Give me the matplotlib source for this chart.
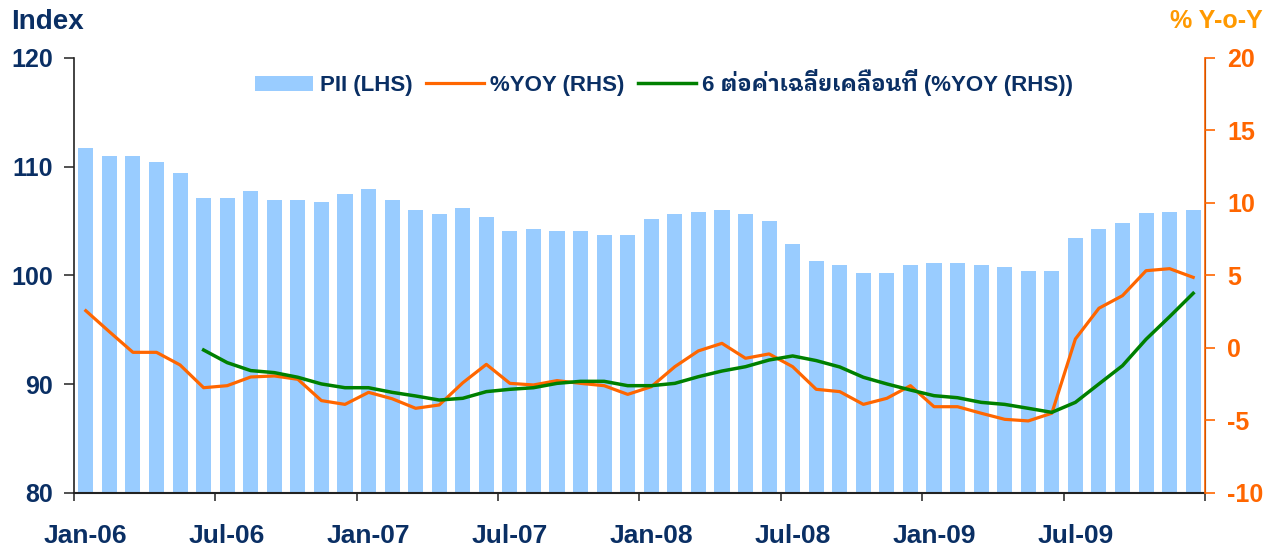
import matplotlib
matplotlib.use("Agg")
import matplotlib.pyplot as plt
import numpy as np

months = ["Jan-06","Feb-06","Mar-06","Apr-06","May-06","Jun-06","Jul-06","Aug-06","Sep-06","Oct-06","Nov-06","Dec-06",
          "Jan-07","Feb-07","Mar-07","Apr-07","May-07","Jun-07","Jul-07","Aug-07","Sep-07","Oct-07","Nov-07","Dec-07",
          "Jan-08","Feb-08","Mar-08","Apr-08","May-08","Jun-08","Jul-08","Aug-08","Sep-08","Oct-08","Nov-08","Dec-08",
          "Jan-09","Feb-09","Mar-09","Apr-09","May-09","Jun-09","Jul-09","Aug-09","Sep-09","Oct-09","Nov-09","Dec-09"]

pii = [111.7, 111.0, 111.0, 110.4, 109.4, 107.1, 107.1, 107.8, 106.9, 106.9, 106.8, 107.5,
       107.95, 106.9, 106.0, 105.65, 106.2, 105.4, 104.1, 104.3, 104.1, 104.1, 103.7, 103.7,
       105.2, 105.65, 105.8, 106.0, 105.65, 105.0, 102.9, 101.3, 101.0, 100.2, 100.2, 101.0,
       101.15, 101.15, 101.0, 100.8, 100.4, 100.4, 103.45, 104.3, 104.8, 105.75, 105.8, 106.0]

yoy = [2.57, 1.12, -0.3, -0.3, -1.17, -2.74, -2.6, -2.0, -1.93, -2.16, -3.63, -3.89,
       -3.06, -3.5, -4.16, -3.93, -2.4, -1.13, -2.44, -2.55, -2.25, -2.44, -2.6, -3.2,
       -2.67, -1.29, -0.2, 0.32, -0.71, -0.41, -1.29, -2.85, -3.01, -3.89, -3.47, -2.6,
       -4.05, -4.05, -4.5, -4.92, -5.03, -4.5, 0.62, 2.74, 3.61, 5.33, 5.47, 4.87]

ma6 = [None, None, None, None, None, -0.14, -1.01, -1.56, -1.7, -2.02, -2.48, -2.74,
       -2.74, -3.06, -3.31, -3.59, -3.47, -3.01, -2.85, -2.74, -2.44, -2.3, -2.3, -2.6,
       -2.6, -2.44, -1.98, -1.59, -1.29, -0.83, -0.55, -0.87, -1.31, -2.02, -2.48, -2.9,
       -3.29, -3.43, -3.75, -3.89, -4.16, -4.44, -3.75, -2.48, -1.22, 0.6, 2.16, 3.77]

tick_labels = ["Jan-06", "Jul-06", "Jan-07", "Jul-07", "Jan-08", "Jul-08", "Jan-09", "Jul-09"]
legend_labels = ["PII (LHS)", "%YOY (RHS)", "6 ต่อค่าเฉลี่ยเคลื่อนที่ (%YOY (RHS))"]

NAVY = "#0A2F64"
ORANGE = "#FF6600"
YORANGE = "#FF9900"
GREEN = "#008000"
BAR = "#99CCFF"
FONT = ["Liberation Sans", "DejaVu Sans"]
THAI = ["Liberation Sans", "IBM Plex Sans Thai Looped", "IBM Plex Sans Thai", "DejaVu Sans"]

plt.rcParams['font.family'] = FONT
plt.rcParams['axes.unicode_minus'] = False

fig = plt.figure(figsize=(12.72, 5.48), dpi=100)
ax = fig.add_axes([0.0582, 0.1004, 0.8891, 0.7938])
ax2 = ax.twinx()

x = np.arange(len(months))
bars = ax.bar(x, pii, width=0.64, color=BAR, zorder=1, label=legend_labels[0])
ax.set_ylim(80, 120)
ax.set_xlim(-0.5, len(months) - 0.5)
ax.set_yticks([80, 90, 100, 110, 120])

ma_arr = np.array([np.nan if v is None else v for v in ma6], dtype=float)
l1, = ax2.plot(x, yoy, color=ORANGE, lw=2.3, label=legend_labels[1], solid_joinstyle='round')
l2, = ax2.plot(x, ma_arr, color=GREEN, lw=2.5, label=legend_labels[2], solid_joinstyle='round')
ax2.set_ylim(-10, 20)
ax2.set_yticks([-10, -5, 0, 5, 10, 15, 20])

# major ticks at boundaries between months (no labels), labels centred on the months
tick_pos = [months.index(t) - 0.5 for t in tick_labels] + [len(months) - 0.5]
ax.set_xticks(tick_pos)
ax.set_xticklabels([""] * len(tick_pos))
ax.set_xticks([months.index(t) for t in tick_labels], minor=True)
ax.set_xticklabels(tick_labels, minor=True, fontsize=19, fontweight="bold", color=NAVY)
ax.tick_params(axis='x', which='major', direction='out', length=6, width=1.2, color="#333333")
ax.tick_params(axis='x', which='minor', length=0, pad=22)
ax.tick_params(axis='y', direction='out', length=7, width=1.2, color="#333333", pad=8,
               labelsize=18, labelcolor=NAVY)
for lab in ax.get_yticklabels():
    lab.set_fontweight("bold")
ax2.tick_params(axis='y', direction='out', length=7, width=1.2, color=ORANGE, pad=9,
                labelsize=18, labelcolor=ORANGE)
for lab in ax2.get_yticklabels():
    lab.set_fontweight("bold")

for a in (ax, ax2):
    a.spines['top'].set_visible(False)
ax.spines['left'].set_color("#222222"); ax.spines['left'].set_linewidth(1.2)
ax.spines['bottom'].set_color("#222222"); ax.spines['bottom'].set_linewidth(1.5)
ax2.spines['right'].set_color(ORANGE); ax2.spines['right'].set_linewidth(1.2)
ax2.spines['left'].set_visible(False); ax2.spines['bottom'].set_visible(False)

fig.text(0.0087, 1 - 29 / 548, "Index", fontsize=20, fontweight="bold", color=NAVY, ha="left", va="baseline")
fig.text(0.993, 1 - 28 / 548, "% Y-o-Y", fontsize=18, fontweight="bold", color=YORANGE, ha="right", va="baseline")

leg = ax2.legend([bars, l1, l2], legend_labels, loc="center", bbox_to_anchor=(0.522, 0.943),
                 ncol=3, frameon=False, handlelength=2.6, handletextpad=0.3, columnspacing=0.6,
                 borderaxespad=0, borderpad=0,
                 prop={"family": THAI, "weight": "bold", "size": 16})
for t in leg.get_texts():
    t.set_color(NAVY)

fig.savefig("out.png", dpi=100)
